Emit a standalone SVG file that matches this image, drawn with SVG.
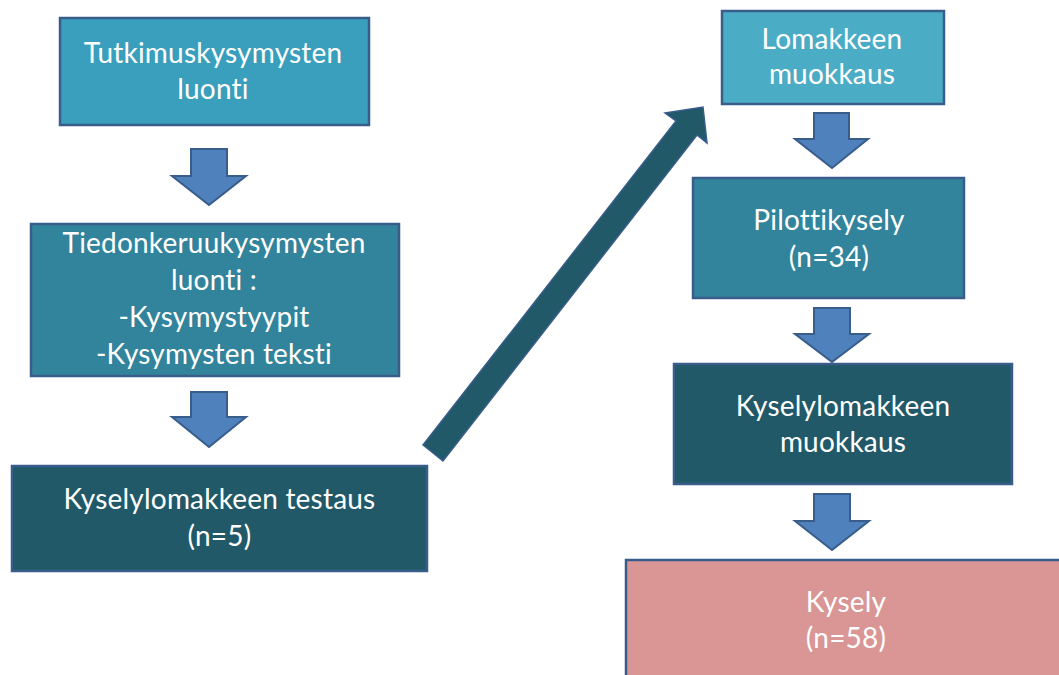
<svg xmlns="http://www.w3.org/2000/svg" width="1059" height="675" viewBox="0 0 1059 675">
<style>
.box{stroke:#385D8A;stroke-width:2.5}
.down{fill:#4F81BD;stroke:#385D8A;stroke-width:2}
.t{font-family:Lato,"Open Sans","Liberation Sans",sans-serif;font-size:28px;fill:#ffffff;text-anchor:middle;letter-spacing:0.2px;font-variant-ligatures:none;font-feature-settings:"liga" 0,"clig" 0}
</style>
<rect width="1059" height="675" fill="#ffffff"/>
<g id="connectors">
<polygon class="down" points="191,149 227,149 227,176 246,176 209,205 172,176 191,176"/>
<polygon class="down" points="191,392 227,392 227,417 246,417 209,447 172,417 191,417"/>
<polygon points="423,445 676,121 665,113 703,107 707,143 697,135 443,461" fill="#215968" stroke="#385D8A" stroke-width="1.5" stroke-linejoin="miter"/>
<polygon class="down" points="814,113 849,113 849,139 868,139 832,168 795,139 814,139"/>
<polygon class="down" points="814,308 850,308 850,334 869,334 832,362 795,334 814,334"/>
<polygon class="down" points="814,494 850,494 850,521 869,521 832,550 795,521 814,521"/>
</g>
<g id="n1">
<rect class="box" x="60" y="18" width="309" height="107" fill="#3A9FBC"/>
<text class="t" x="213" y="63">Tutkimuskysymysten</text>
<text class="t" x="213" y="99">luonti</text>
</g>
<g id="n2">
<rect class="box" x="31" y="224" width="368" height="152" fill="#31849B"/>
<text class="t" x="214" y="253">Tiedonkeruukysymysten</text>
<text class="t" x="214" y="290">luonti :</text>
<text class="t" x="214" y="327">-Kysymystyypit</text>
<text class="t" x="214" y="364">-Kysymysten teksti</text>
</g>
<g id="n3">
<rect class="box" x="12" y="466" width="415" height="105" fill="#215968"/>
<text class="t" x="219.5" y="509">Kyselylomakkeen testaus</text>
<text class="t" x="219.5" y="546">(n=5)</text>
</g>
<g id="n4">
<rect class="box" x="722" y="11" width="222" height="93" fill="#4BACC6"/>
<text class="t" x="832" y="49">Lomakkeen</text>
<text class="t" x="832" y="84">muokkaus</text>
</g>
<g id="n5">
<rect class="box" x="693" y="178" width="271" height="120" fill="#31849B"/>
<text class="t" x="829" y="230">Pilottikysely</text>
<text class="t" x="829" y="267">(n=34)</text>
</g>
<g id="n6">
<rect class="box" x="674" y="364" width="338" height="120" fill="#215968"/>
<text class="t" x="843" y="416">Kyselylomakkeen</text>
<text class="t" x="843" y="452">muokkaus</text>
</g>
<g id="n7">
<rect class="box" x="626" y="560" width="444" height="130" fill="#D99694"/>
<text class="t" x="846" y="612">Kysely</text>
<text class="t" x="846" y="648">(n=58)</text>
</g>
</svg>
